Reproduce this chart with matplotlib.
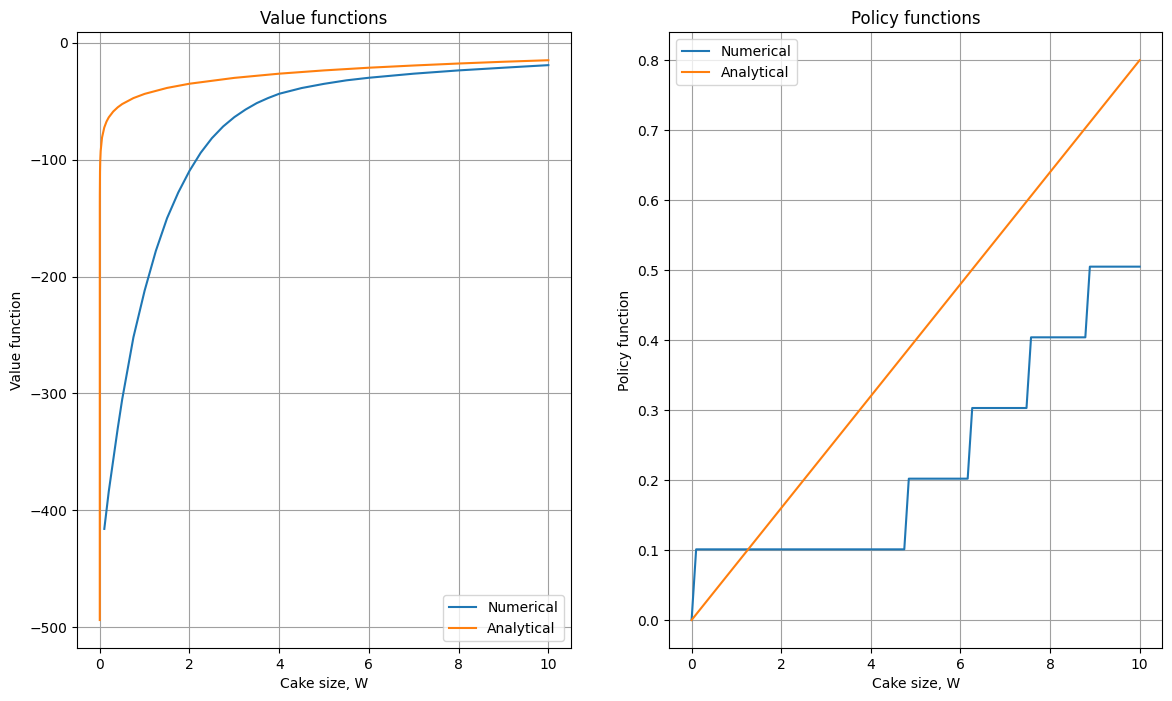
import numpy as np
import matplotlib
matplotlib.use("Agg")
import matplotlib.pyplot as plt

# value functions
w_num = [0.101, 0.2, 0.3, 0.4, 0.5, 0.75, 1.0, 1.25, 1.5, 1.75, 2.0, 2.25, 2.5,
         2.75, 3.0, 3.25, 3.5, 3.75, 4.0, 4.5, 5.0, 5.5, 6.0, 7.0, 8.0, 9.0, 10.0]
v_num = [-416, -384, -357, -330, -305, -252, -212, -178, -150, -128, -109.5, -94, -81.5,
         -71.5, -63.5, -57, -51.5, -47.2, -43.5, -38.6, -35, -32, -29.8, -26.3, -23.5, -21.2, -19]

w_ana = [0.0, 0.0005, 0.001, 0.005, 0.01, 0.02, 0.05, 0.1, 0.15, 0.2, 0.3, 0.4, 0.5, 0.75,
         1.0, 1.5, 2.0, 3.0, 4.0, 5.0, 6.0, 7.0, 8.0, 9.0, 10.0]
v_ana = [-494, -139, -130, -110, -101, -92.5, -81, -72.4, -67.3, -63.7, -58.7, -55.1, -52.3, -47.2,
         -43.6, -38.5, -34.9, -29.9, -26.3, -23.5, -21.2, -19.3, -17.6, -16.1, -14.8]

# policy functions
w_pol = [0.0, 0.101, 4.747, 4.848, 6.162, 6.263, 7.475, 7.576, 8.788, 8.889, 10.0]
c_num = [0.0, 0.101, 0.101, 0.202, 0.202, 0.303, 0.303, 0.404, 0.404, 0.505, 0.505]
w_lin = [0.0, 10.0]
c_ana = [0.0, 0.8]

fig = plt.figure(figsize=(11.72, 7.01), dpi=100)
ax1 = fig.add_axes([0.066, 0.0756, 0.421, 0.8784])
ax2 = fig.add_axes([0.571, 0.0756, 0.4205, 0.8784])

ax1.plot(w_num, v_num, label="Numerical")
ax1.plot(w_ana, v_ana, label="Analytical")
ax1.set_title("Value functions")
ax1.set_xlabel("Cake size, W")
ax1.set_ylabel("Value function")
ax1.legend(loc="lower right")
ax1.grid(color="#a0a0a0")

ax2.plot(w_pol, c_num, label="Numerical")
ax2.plot(w_lin, c_ana, label="Analytical")
ax2.set_title("Policy functions")
ax2.set_xlabel("Cake size, W")
ax2.set_ylabel("Policy function")
ax2.legend(loc="upper left")
ax2.grid(color="#a0a0a0")

fig.savefig("out.png")
